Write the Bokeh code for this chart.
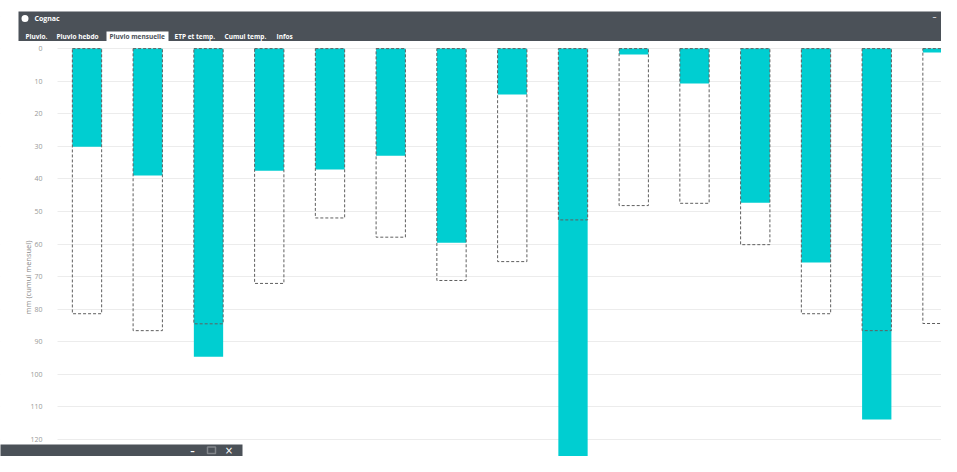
import math
from bokeh.plotting import figure
from bokeh.models import (Range1d, LinearAxis, Grid, SingleIntervalTicker,
                          BoxAnnotation, Label, ColumnDataSource)
from bokeh.embed import file_html
from bokeh.resources import INLINE

# ---------------- data ----------------
periodes = list(range(15))
pluie = [30.1, 39.0, 94.6, 37.5, 37.1, 32.9, 59.6, 14.1, 135.0, 1.8, 10.7, 47.3, 65.7, 113.9, 1.2]
normale = [81.4, 86.6, 84.5, 72.1, 52.0, 57.9, 71.2, 65.4, 52.6, 48.2, 47.5, 60.2, 81.4, 86.6, 84.4]
tick_interval = 10
tabs = ["Pluvio.", "Pluvio hebdo", "Pluvio mensuelle", "ETP et temp.", "Cumul temp.", "Infos"]
selected_tab = "Pluvio mensuelle"
titre = "Cognac"
y_label = "mm (cumul mensuel)"

# ---------------- layout helpers (reference pixel -> data) ----------------
W, H = 941, 456
OFF = 0
X0_REF, DX = 86.5, 60.75
Y0_REF, DY = 48.1, 3.257

def xd(xref):
    return (xref - X0_REF) / DX

def yd(yref):
    return (yref - Y0_REF) / DY

CYAN = "#00CED1"
DARK = "#4b5158"

p = figure(width=W, height=H, output_backend="svg", toolbar_location=None,
           x_range=Range1d(xd(OFF), xd(OFF + W)),
           y_range=Range1d(yd(OFF + H), yd(OFF)),
           x_axis_type=None, y_axis_type=None, min_border=0,
           outline_line_color=None, background_fill_color="white",
           border_fill_color="white")

ticker = SingleIntervalTicker(interval=tick_interval)
grid = Grid(dimension=1, ticker=ticker, grid_line_color="#ececec", grid_line_width=1)
p.add_layout(grid)
# hide gridlines left of the plotting area
p.add_layout(BoxAnnotation(left=xd(OFF - 2), right=xd(57), top=yd(OFF - 2), bottom=yd(OFF + H + 2),
                           fill_color="white", fill_alpha=1, line_color=None, level="underlay"))

yaxis = LinearAxis(ticker=ticker, fixed_location=xd(57),
                   axis_line_color=None, major_tick_line_color=None,
                   minor_tick_line_color=None, major_label_standoff=9,
                   major_label_text_color="#999999", major_label_text_font="Open Sans",
                   major_label_text_font_size="7px")
p.add_layout(yaxis, "left")

src = ColumnDataSource(dict(x=periodes, pluie=pluie, normale=normale))
BW = 29.3 / DX
p.vbar(x="x", top=0, bottom="pluie", width=BW, source=src,
       fill_color=CYAN, line_color=None)
p.vbar(x="x", top=0, bottom="normale", width=BW, source=src,
       fill_color=None, line_color="#5f5f5f", line_dash="3 2", line_width=1)

# y axis label
p.add_layout(Label(x=xd(27), y=yd(277), text=y_label, angle=math.pi / 2,
                   text_align="center", text_baseline="middle",
                   text_font="Open Sans", text_font_size="7.5px", text_color="#888888"))

# ---------------- window chrome ----------------
p.add_layout(BoxAnnotation(left=xd(18), right=xd(OFF + W + 5), top=yd(11), bottom=yd(40.5),
                           fill_color=DARK, fill_alpha=1, line_color=None))
p.add_layout(BoxAnnotation(left=xd(106), right=xd(168), top=yd(31), bottom=yd(40.5),
                           fill_color="white", fill_alpha=1, line_color=None))
p.add_layout(BoxAnnotation(left=xd(OFF - 5), right=xd(242), top=yd(444), bottom=yd(OFF + H + 5),
                           fill_color=DARK, fill_alpha=1, line_color=None))

circ = p.scatter([xd(24.5)], [yd(18)], size=7, fill_color="white", line_color=None)
circ.level = "overlay"

p.add_layout(Label(x=xd(34), y=yd(18), text=titre, text_baseline="middle",
                   text_font="Open Sans", text_font_style="bold", text_font_size="7px",
                   text_color="white"))

tab_x = [25, 56, 109, 174, 224, 276]
for t, tx in zip(tabs, tab_x):
    p.add_layout(Label(x=xd(tx), y=yd(35.8), text=t, text_baseline="middle",
                       text_font="Open Sans", text_font_style="bold", text_font_size="6.5px",
                       text_color=DARK if t == selected_tab else "white"))

# top-right window icons
p.add_layout(Label(x=xd(934), y=yd(17), text="\u2013", text_align="center", text_baseline="middle",
                   text_font="DejaVu Sans", text_font_size="8px", text_color="white"))

# bottom bar icons (kept fully inside the visible area)
ICON_Y = 450
p.add_layout(Label(x=xd(192), y=yd(ICON_Y), text="\u2013", text_align="center", text_baseline="middle",
                   text_font="DejaVu Sans", text_font_size="9px", text_font_style="bold",
                   text_color="white"))
p.add_layout(BoxAnnotation(left=xd(207), right=xd(215), top=yd(ICON_Y - 3.5), bottom=yd(ICON_Y + 3),
                           fill_color=None, line_color="white", line_width=1.5))
p.add_layout(Label(x=xd(228.5), y=yd(ICON_Y), text="\u00d7", text_align="center", text_baseline="middle",
                   text_font="DejaVu Sans", text_font_size="10px",
                   text_color="white"))

open("out.html", "w").write(file_html(p, INLINE))
